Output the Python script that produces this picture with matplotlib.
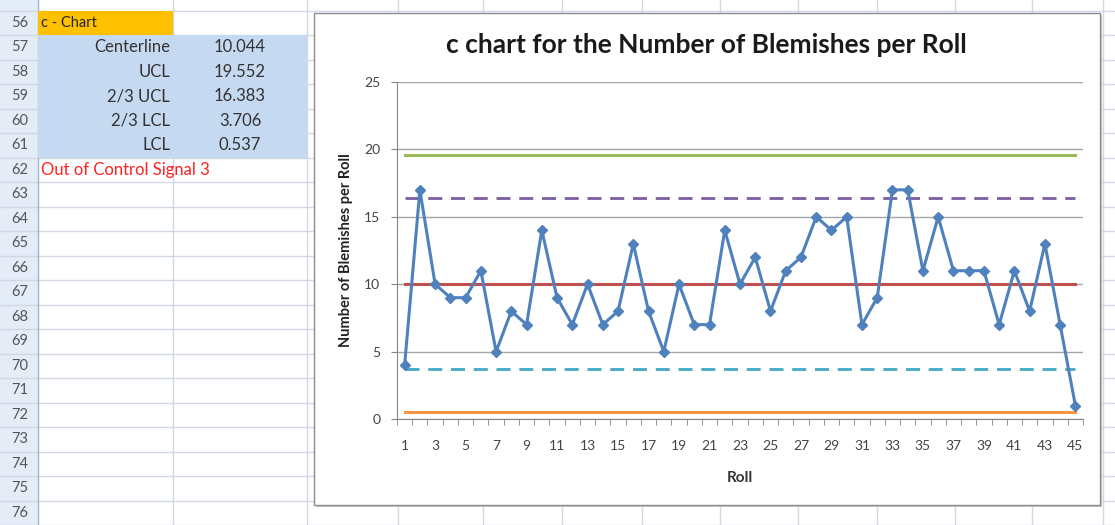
import numpy as np
import matplotlib
matplotlib.use('Agg')
import matplotlib.pyplot as plt
from matplotlib.patches import Rectangle

plt.rcParams['font.family'] = ['Lato', 'DejaVu Sans']

# blemishes per roll (rolls 1..45)
rolls = list(range(1, 46))
blemishes = [4, 17, 10, 9, 9, 11, 5, 8, 7, 14, 9, 7, 10, 7, 8, 13, 8, 5, 10, 7,
             7, 14, 10, 12, 8, 11, 12, 15, 14, 15, 7, 9, 17, 17, 11, 15, 11, 11,
             11, 7, 11, 8, 13, 7, 1]

# control limits shown in the sheet
limit_names = ['Centerline', 'UCL', '2/3 UCL', '2/3 LCL', 'LCL']
limit_values = [10.044, 19.552, 16.383, 3.706, 0.537]
signal_text = 'Out of Control Signal 3'

W, H = 1115, 525
fig = plt.figure(figsize=(W / 100, H / 100), dpi=100)

# ---- spreadsheet background ----
bg = fig.add_axes([0, 0, 1, 1])
bg.set_xlim(0, W)
bg.set_ylim(H, 0)
bg.axis('off')

row_h = 24.5
row0 = 10.5  # top of row 56
grid_c = '#D0D7E5'
col_lines = [173, 307, 398, 483, 562, 642, 720, 798, 877, 955, 1032, 1103]
fs = 12

# header column
bg.add_patch(Rectangle((0, 0), 38, H, facecolor='#E4ECF7', edgecolor='none'))
bg.plot([38, 38], [0, H], color='#9EB6CE', lw=1)
for k in range(-1, 22):
    y = row0 + k * row_h
    bg.plot([0, W], [y, y], color=grid_c, lw=1, zorder=1)
    if 0 <= k < 21:
        bg.text(20, y + row_h / 2, str(56 + k), ha='center', va='center',
                fontsize=fs - 1.5, color='#555555')
for x in col_lines:
    bg.plot([x, x], [0, H], color=grid_c, lw=1, zorder=1)

# cells
bg.add_patch(Rectangle((38, row0), 135, row_h, facecolor='#FFC000',
                       edgecolor='none', zorder=2))
bg.text(41, row0 + row_h / 2, 'c - Chart', ha='left', va='center',
        fontsize=fs - 1.5, color='#222222', zorder=3)
bg.add_patch(Rectangle((38, row0 + row_h), 269, row_h * 5, facecolor='#C5D9F1',
                       edgecolor='none', zorder=2))
for i, (name, val) in enumerate(zip(limit_names, limit_values)):
    yc = row0 + (i + 1.5) * row_h
    bg.text(170, yc, name, ha='right', va='center', fontsize=fs,
            color='#333333', zorder=3)
    bg.text(240, yc, f'{val:.3f}', ha='center', va='center', fontsize=fs,
            color='#333333', zorder=3)
bg.text(41, row0 + 6.5 * row_h, signal_text, ha='left', va='center',
        fontsize=fs, color='#FF2020', zorder=3)

# chart box
bg.add_patch(Rectangle((316, 15), 786, 492, facecolor='#C8C8C8',
                       edgecolor='none', zorder=4))
bg.add_patch(Rectangle((314, 13), 786, 492, facecolor='white',
                       edgecolor='#8C8C8C', lw=1, zorder=5))
bg.text(706, 45, 'c chart for the Number of Blemishes per Roll', ha='center',
        va='center', fontsize=19, fontweight='bold', color='#1A1A1A', zorder=6)

# ---- chart ----
L, R, T, B = 397, 1083, 82, 419
ax = fig.add_axes([L / W, (H - B) / H, (R - L) / W, (B - T) / H])
ax.set_zorder(10)
ax.patch.set_alpha(0)

ucl, ucl23, center, lcl23, lcl = (limit_values[1], limit_values[2],
                                  limit_values[0], limit_values[3],
                                  limit_values[4])
n = len(rolls)
ax.plot(rolls, np.full(n, ucl), color='#9BBB59', lw=2.2)
ax.plot(rolls, np.full(n, ucl23), color='#8064A2', lw=2.1, ls=(0, (4.8, 3)))
ax.plot(rolls, np.full(n, center), color='#C0504D', lw=2.2)
ax.plot(rolls, np.full(n, lcl23), color='#4BACC6', lw=2.1, ls=(0, (4.8, 3)))
ax.plot(rolls, np.full(n, lcl), color='#F79646', lw=2.2)
ax.plot(rolls, blemishes, color='#4F81BD', lw=2.2, marker='D', markersize=5.5,
        zorder=5)

ax.set_xlim(0.5, n + 0.5)
ax.set_ylim(0, 25)
ax.set_yticks([0, 5, 10, 15, 20, 25])
ax.grid(axis='y', color='#A6A6A6', lw=1)
ax.set_axisbelow(True)
ax.set_xticks(rolls[::2])
ax.set_xticks(np.arange(0.5, n + 1), minor=True)
ax.tick_params(axis='x', which='major', length=0, pad=15, labelsize=10,
               labelcolor='#444444')
ax.tick_params(axis='x', which='minor', length=4, color='#868686')
ax.tick_params(axis='y', length=4, color='#868686', labelsize=10,
               labelcolor='#444444', pad=8)
for s in ['top', 'right']:
    ax.spines[s].set_visible(False)
for s in ['left', 'bottom']:
    ax.spines[s].set_color('#868686')

ax.set_xlabel('Roll', fontsize=11, fontweight='bold', color='#333333',
              labelpad=14)
ax.set_ylabel('Number of Blemishes per Roll', fontsize=10.5, fontweight='bold',
              color='#222222', labelpad=8)

fig.savefig('out.png', dpi=100)
